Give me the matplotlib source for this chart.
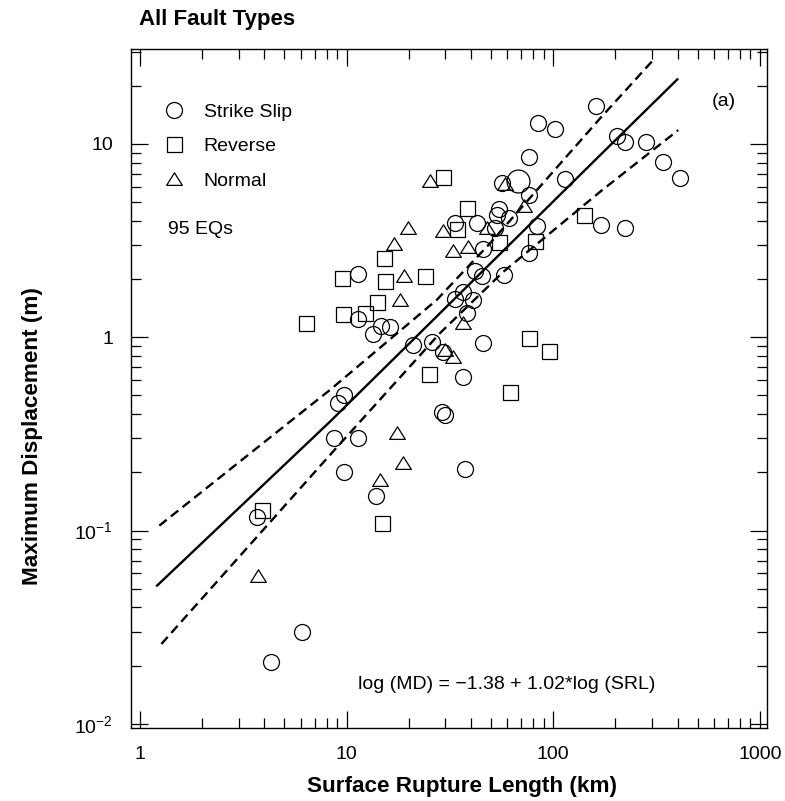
import matplotlib
matplotlib.use("Agg")
import matplotlib.pyplot as plt
from matplotlib.path import Path
from matplotlib.ticker import FixedLocator, FixedFormatter, LogLocator, NullFormatter

plt.rcParams['font.family'] = ['Liberation Sans', 'DejaVu Sans']
plt.rcParams['mathtext.fontset'] = 'custom'
plt.rcParams['mathtext.rm'] = 'Liberation Sans'
plt.rcParams['mathtext.it'] = 'Liberation Sans:italic'
plt.rcParams['mathtext.bf'] = 'Liberation Sans:bold'

# Strike slip events (surface rupture length km, max displacement m)
ss_srl = [4.3, 6.1, 3.67, 8.7, 11.4, 9.1, 9.7, 9.75, 13.9, 11.3, 11.4, 13.4, 14.6,
          16.3, 21.0, 26.0, 29.4, 29.1, 30.0, 37.4, 36.5, 45.9, 33.5, 36.7, 41.1,
          38.1, 41.8, 45.1, 57.8, 45.6, 76.6, 33.5, 42.9, 52.3, 53.3, 54.8, 61.3,
          83.8, 76.6, 56.3, 76.4, 84.7, 102, 114, 162, 204, 223, 281, 339, 411,
          170, 223]
ss_md = [0.021, 0.030, 0.118, 0.30, 0.30, 0.456, 0.50, 0.20, 0.151, 2.12, 1.24, 1.04,
         1.14, 1.13, 0.91, 0.95, 0.84, 0.41, 0.397, 0.207, 0.625, 0.93, 1.57, 1.72,
         1.56, 1.34, 2.21, 2.08, 2.10, 2.85, 2.72, 3.92, 3.92, 3.66, 4.29, 4.59,
         4.13, 3.78, 5.45, 6.31, 8.53, 12.9, 11.9, 6.59, 15.7, 11.0, 10.2, 10.3,
         8.09, 6.65, 3.81, 3.66]
big_srl = [67.8]
big_md = [6.46]

# Reverse events
rev_srl = [3.88, 6.36, 9.64, 12.3, 14.1, 9.47, 15.2, 15.3, 23.9, 14.8, 25.1, 29.4,
           38.1, 34.1, 54.8, 81.6, 141, 76.4, 95.7, 61.8]
rev_md = [0.128, 1.18, 1.32, 1.33, 1.52, 2.02, 2.56, 1.96, 2.08, 0.11, 0.646, 6.77,
          4.65, 3.62, 3.12, 3.15, 4.29, 0.995, 0.85, 0.52]

# Normal events
nor_srl = [3.71, 17.5, 18.8, 14.5, 17.0, 19.0, 18.1, 25.3, 19.9, 29.4, 32.8, 38.8,
           47.7, 72.2, 58.5, 30.0, 32.9, 36.7]
nor_md = [0.058, 0.32, 0.224, 0.183, 3.04, 2.07, 1.56, 6.46, 3.66, 3.55, 2.78, 2.94,
          3.69, 4.78, 6.21, 0.86, 0.788, 1.19]

# Regression line and bounds
fit_srl = [1.21, 8.31, 30.5, 169, 399]
fit_md = [0.0519, 0.366, 1.44, 8.77, 21.6]
upper_srl = [1.24, 5.32, 8.31, 27.3, 49.4, 169, 305]
upper_md = [0.106, 0.366, 0.534, 1.56, 3.06, 13.6, 27.2]
lower_srl = [1.27, 8.31, 28.3, 57.3, 169, 403]
lower_md = [0.0259, 0.246, 1.05, 2.18, 5.67, 11.8]

fig = plt.figure(figsize=(7.85, 8.01), dpi=100)
ax = fig.add_axes([0.1669, 0.0915, 0.8098, 0.8473])

tri = Path([(-1, -0.75), (1, -0.75), (0, 0.85), (-1, -0.75)],
           [Path.MOVETO, Path.LINETO, Path.LINETO, Path.CLOSEPOLY])
mk = dict(linestyle='none', markerfacecolor='none', markeredgecolor='black', markeredgewidth=0.9)

ax.plot(ss_srl, ss_md, marker='o', markersize=11.5, label='Strike Slip', **mk)
ax.plot(big_srl, big_md, marker='o', markersize=16.5, **mk)
ax.plot(rev_srl, rev_md, marker='s', markersize=10.8, label='Reverse', **mk)
ax.plot(nor_srl, nor_md, marker=tri, markersize=11.3, label='Normal', **mk)

ax.plot(fit_srl, fit_md, color='black', linewidth=1.7)
ax.plot(upper_srl, upper_md, color='black', linewidth=1.7, dashes=(4, 2.3))
ax.plot(lower_srl, lower_md, color='black', linewidth=1.7, dashes=(4, 2.3))

ax.set_xscale('log')
ax.set_yscale('log')
ax.set_xlim(0.905, 1080)
ax.set_ylim(0.00955, 31)

ax.xaxis.set_major_locator(FixedLocator([1, 10, 100, 1000]))
ax.xaxis.set_major_formatter(FixedFormatter(['1', '10', '100', '1000']))
ax.yaxis.set_major_locator(FixedLocator([0.01, 0.1, 1, 10]))
ax.yaxis.set_major_formatter(FixedFormatter(['$10^{-2}$', '$10^{-1}$', '1', '10']))
for axis in (ax.xaxis, ax.yaxis):
    axis.set_minor_locator(LogLocator(base=10, subs=range(2, 10), numticks=20))
    axis.set_minor_formatter(NullFormatter())

ax.tick_params(which='both', direction='in', top=True, right=True, width=0.9, labelsize=14)
ax.tick_params(which='major', length=12.5, pad=13)
ax.tick_params(which='minor', length=7.5)
for s in ax.spines.values():
    s.set_linewidth(1.0)

ax.set_xlabel('Surface Rupture Length (km)', fontsize=16.2, fontweight='bold')
ax.set_ylabel('Maximum Displacement (m)', fontsize=16.2, fontweight='bold')
ax.xaxis.set_label_coords(0.521, -0.071)
ax.yaxis.set_label_coords(-0.138, 0.43)

fig.text(139 / 785, 1 - 20 / 801, 'All Fault Types', fontsize=16, fontweight='bold',
         ha='left', va='center')

ax.legend(loc='upper left', bbox_to_anchor=(0.053, 0.9206), frameon=False, fontsize=14,
          numpoints=1, handlelength=1.0, handletextpad=1.0, labelspacing=0.88,
          borderpad=0, borderaxespad=0)

ax.text((168 - 131) / 635.7, (727.7 - 229.5) / 678.7, '95 EQs', transform=ax.transAxes,
        fontsize=14, ha='left', va='center')
ax.text((712 - 131) / 635.7, (727.7 - 101) / 678.7, '(a)', transform=ax.transAxes,
        fontsize=14, ha='left', va='center')
ax.text((358 - 131) / 635.7, (727.7 - 684) / 678.7, 'log (MD) = \u22121.38 + 1.02*log (SRL)',
        transform=ax.transAxes, fontsize=14, ha='left', va='center')

fig.savefig('out.png', dpi=100)
